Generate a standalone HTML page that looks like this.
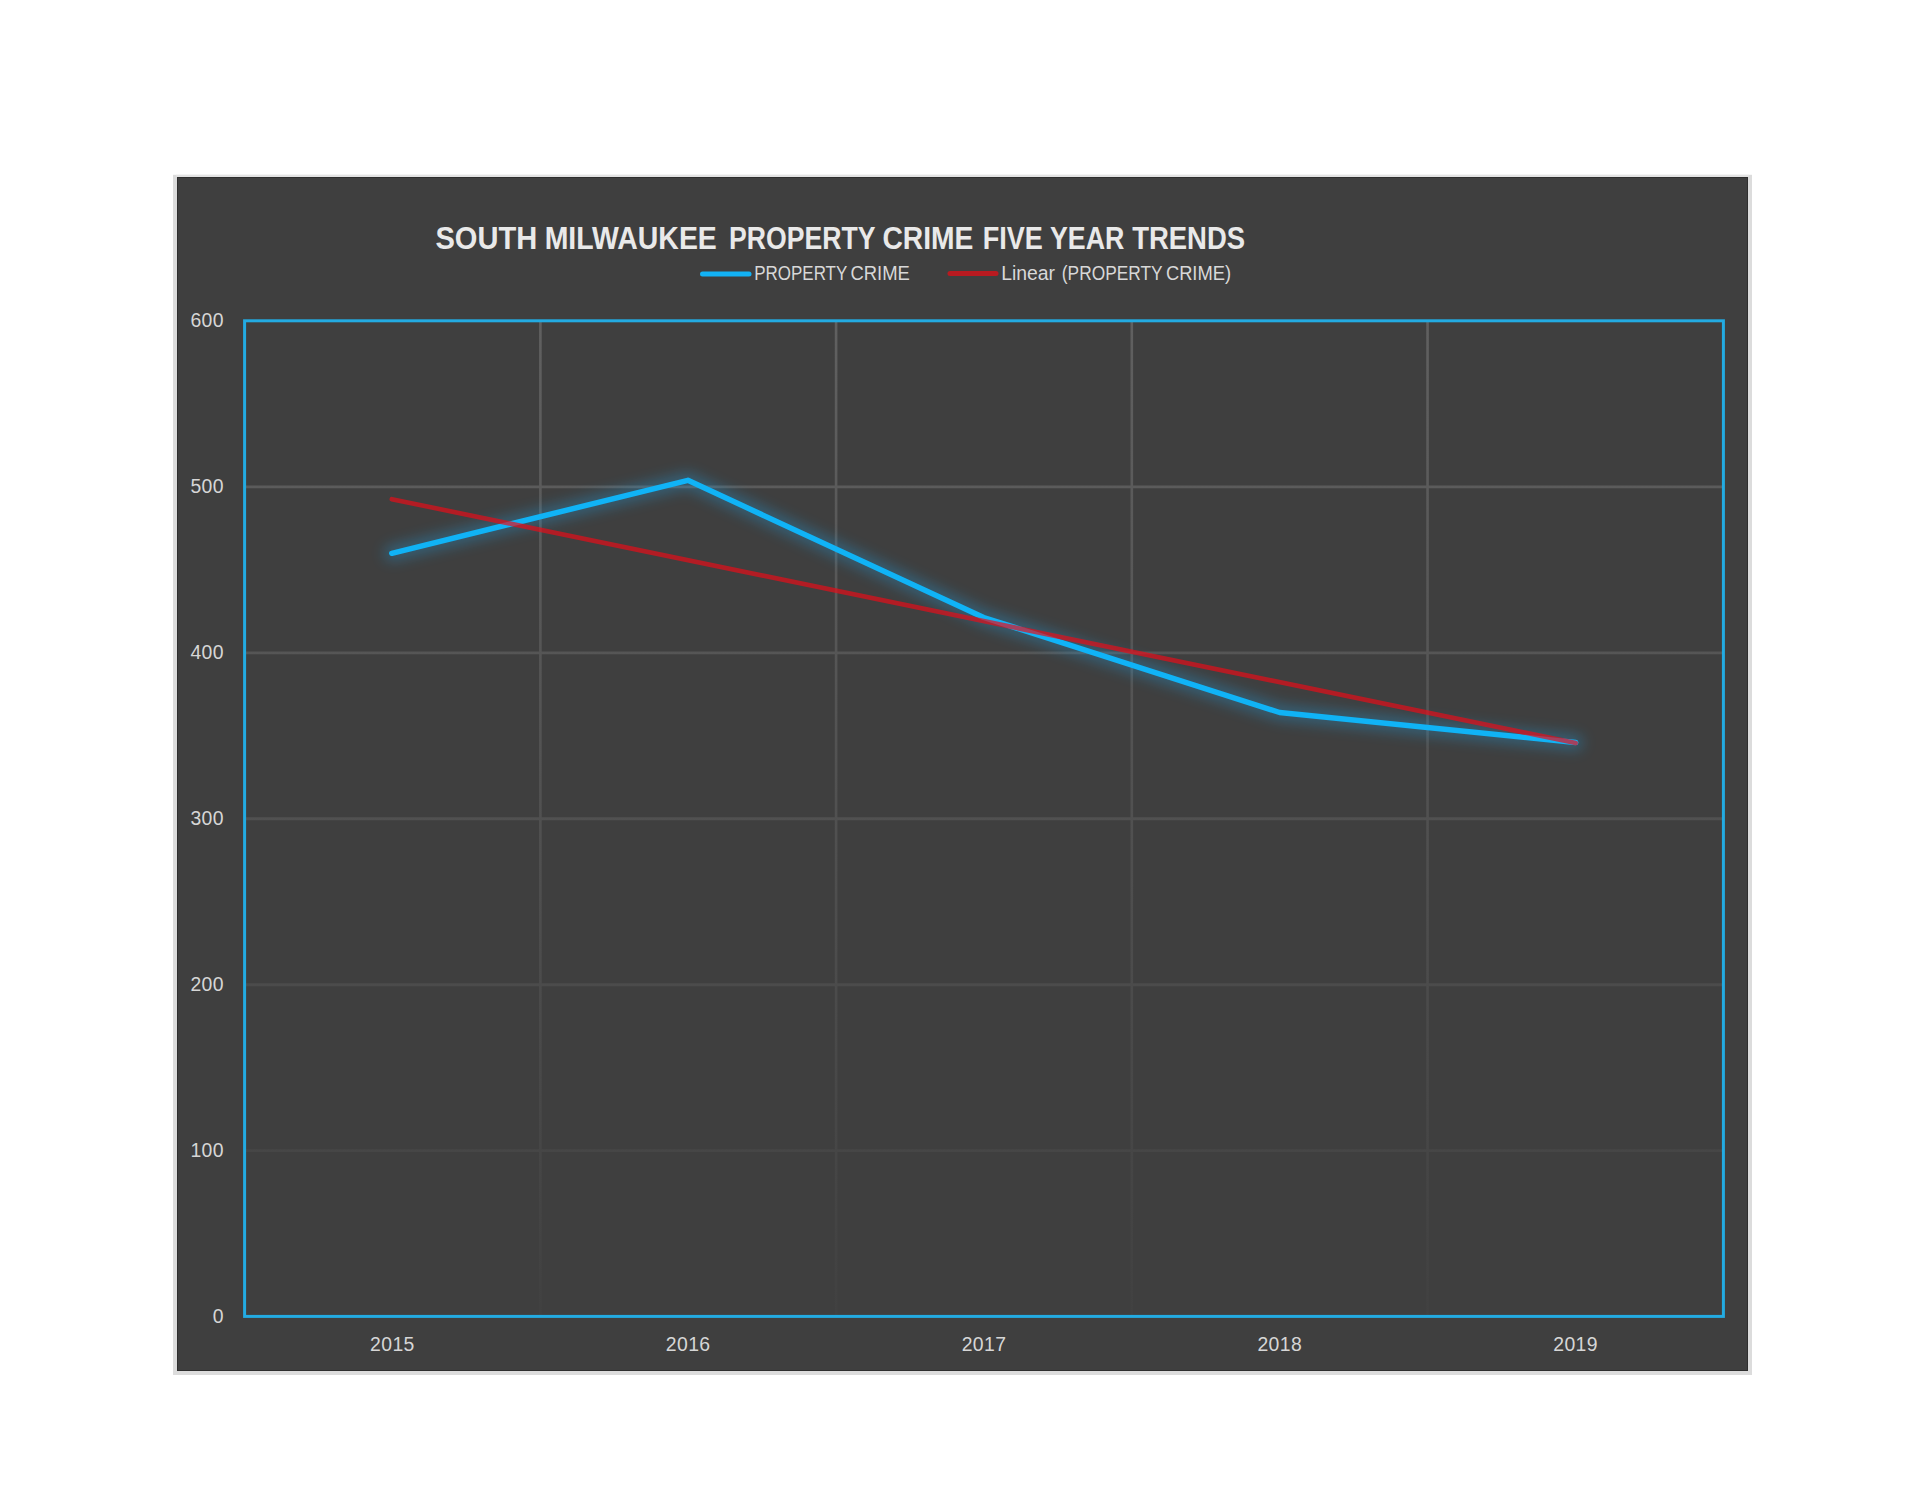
<!DOCTYPE html>
<html lang="en">
<head>
<meta charset="utf-8">
<title>South Milwaukee Property Crime Five Year Trends</title>
<style>
  html, body { margin: 0; padding: 0; background: #ffffff; }
  body { width: 1925px; height: 1488px; overflow: hidden; position: relative; }
  svg { display: block; position: absolute; left: 0; top: 0; }
  text { font-family: "Liberation Sans", sans-serif; }
  .ax { font-size: 19.4px; fill: #d6d6d6; letter-spacing: 0.4px; }
  .lg { font-size: 19.3px; fill: #d8d8d8; }
  .title { font-size: 31.7px; font-weight: bold; fill: #e9e9e9; }
</style>
</head>
<body>
<svg width="1925" height="1488" viewBox="0 0 1925 1488">
  <defs>
    <linearGradient id="gridfade" gradientUnits="userSpaceOnUse" x1="0" y1="321" x2="0" y2="1316">
      <stop offset="0" stop-color="#606060"/>
      <stop offset="1" stop-color="#414141"/>
    </linearGradient>
    <filter id="glow" x="-5%" y="-25%" width="110%" height="150%">
      <feGaussianBlur stdDeviation="7"/>
    </filter>
  </defs>

  <!-- chart frame -->
  <rect x="173" y="174.8" width="1579" height="1200.2" fill="#dcdcdc"/>
  <rect x="176" y="174.8" width="1573" height="2.2" fill="#e3e3e3"/>
  <rect x="177" y="177" width="1571" height="1194" fill="#2e2e2e"/>
  <rect x="178" y="178" width="1569" height="1192" fill="#3f3f3f"/>

  <!-- gridlines -->
  <g stroke="url(#gridfade)" fill="none">
    <path stroke-width="2.9" d="M246 486.9H1722M246 652.9H1722M246 818.8H1722M246 984.7H1722M246 1150.6H1722"/>
    <path stroke-width="2.6" d="M540.4 322V1315M836.1 322V1315M1131.8 322V1315M1427.55 322V1315"/>
  </g>

  <!-- series glow + lines -->
  <polyline points="391.8,553.3 687.9,480.3 983.7,617.5 1279.6,712.5 1575.7,742.6" fill="none" stroke="#1aa8f0" stroke-width="15" stroke-linecap="round" stroke-linejoin="round" opacity="0.33" filter="url(#glow)"/>
  <polyline points="391.8,553.3 687.9,480.3 983.7,617.5 1279.6,712.5 1575.7,742.6" fill="none" stroke="#10b3f6" stroke-width="5.5" stroke-linecap="round" stroke-linejoin="round"/>
  <line x1="391.8" y1="499.2" x2="1575.7" y2="743.1" stroke="#ea0c18" stroke-width="4.6" stroke-linecap="round" opacity="0.68"/>

  <!-- plot border -->
  <rect x="244.6" y="320.8" width="1478.8" height="995.6" fill="none" stroke="#23abe2" stroke-width="3"/>

  <!-- title -->
  <g class="title">
    <text x="435.43" y="249" textLength="101.82" lengthAdjust="spacingAndGlyphs">SOUTH</text>
    <text x="544.66" y="249" textLength="172.17" lengthAdjust="spacingAndGlyphs">MILWAUKEE</text>
    <text x="728.94" y="249" textLength="146.46" lengthAdjust="spacingAndGlyphs">PROPERTY</text>
    <text x="882.49" y="249" textLength="90.92" lengthAdjust="spacingAndGlyphs">CRIME</text>
    <text x="982.64" y="249" textLength="60.17" lengthAdjust="spacingAndGlyphs">FIVE</text>
    <text x="1049.99" y="249" textLength="74.39" lengthAdjust="spacingAndGlyphs">YEAR</text>
    <text x="1132.17" y="249" textLength="112.95" lengthAdjust="spacingAndGlyphs">TRENDS</text>
  </g>

  <!-- legend -->
  <line x1="702.5" y1="274" x2="749" y2="274" stroke="#12b2f5" stroke-width="5" stroke-linecap="round"/>
  <g class="lg"><text x="754.3" y="280" textLength="93.0" lengthAdjust="spacingAndGlyphs">PROPERTY</text> <text x="850.4" y="280" textLength="59.4" lengthAdjust="spacingAndGlyphs">CRIME</text></g>
  <line x1="950" y1="273.5" x2="996" y2="273.5" stroke="#b81a20" stroke-width="5" stroke-linecap="round"/>
  <g class="lg"><text x="1001.15" y="280" textLength="53.9" lengthAdjust="spacingAndGlyphs">Linear</text> <text x="1061.8" y="280" textLength="100.9" lengthAdjust="spacingAndGlyphs">(PROPERTY</text> <text x="1165.9" y="280" textLength="65.2" lengthAdjust="spacingAndGlyphs">CRIME)</text></g>

  <!-- y axis labels -->
  <g class="ax" text-anchor="end">
    <text x="224" y="327.2">600</text>
    <text x="224" y="493.1">500</text>
    <text x="224" y="659">400</text>
    <text x="224" y="824.9">300</text>
    <text x="224" y="990.8">200</text>
    <text x="224" y="1156.7">100</text>
    <text x="224" y="1322.6">0</text>
  </g>

  <!-- x axis labels -->
  <g class="ax" text-anchor="middle">
    <text x="392.4" y="1350.8">2015</text>
    <text x="688.2" y="1350.8">2016</text>
    <text x="984" y="1350.8">2017</text>
    <text x="1279.8" y="1350.8">2018</text>
    <text x="1575.6" y="1350.8">2019</text>
  </g>
</svg>
</body>
</html>
